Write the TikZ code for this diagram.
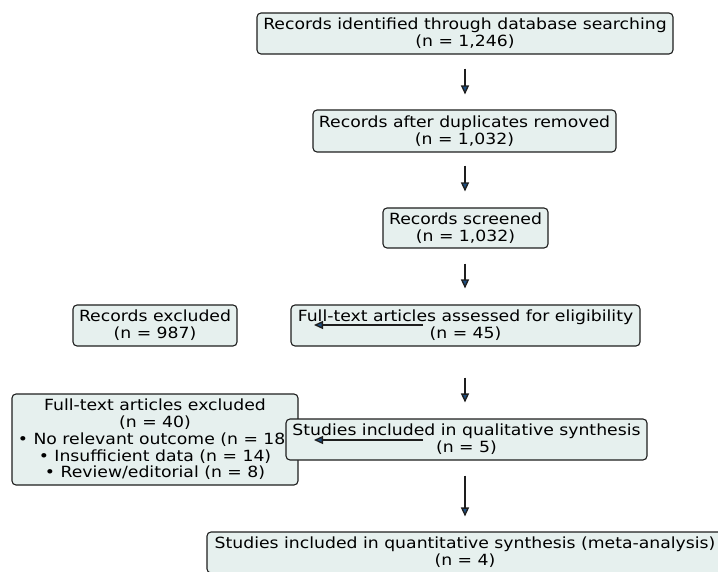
\documentclass[tikz,border=0pt]{standalone}
\usepackage{fontspec}
\setmainfont{DejaVu Sans}[FakeStretch=1.12]
\usetikzlibrary{arrows.meta,calc}
\definecolor{boxfill}{RGB}{230,240,238}
\definecolor{edgecol}{RGB}{30,30,30}
\definecolor{tipblue}{RGB}{31,80,130}
\tikzset{
  box/.style={draw=edgecol, fill=boxfill, line width=1.1pt, rounded corners=4pt,
    align=center, inner sep=0pt, font=\fontsize{15.4}{16.8}\selectfont},
  arr/.style={draw=edgecol, line width=1.3pt,
    -{Triangle[length=9pt,width=8pt,fill=tipblue]}},
}
\begin{document}
\begin{tikzpicture}[x=1pt,y=1pt]
\useasboundingbox (0,0) rectangle (718,-572);
\clip (0,0) rectangle (718,-572);
\node[box, minimum width=416pt, minimum height=41pt] (n1) at (465,-33.5)
  {Records identified through database searching\\(n = 1,246)};
\node[box, minimum width=303pt, minimum height=42pt] (n2) at (464.5,-131)
  {Records after duplicates removed\\(n = 1,032)};
\node[box, minimum width=165pt, minimum height=40pt] (n3) at (465.5,-228)
  {Records screened\\(n = 1,032)};
\node[box, minimum width=349pt, minimum height=41pt] (n4) at (465.5,-325.5)
  {Full-text articles assessed for eligibility\\(n = 45)};
\node[box, minimum width=164pt, minimum height=41pt] (ex1) at (155,-325.5)
  {Records excluded\\(n = 987)};
\node[box, minimum width=286pt, minimum height=91pt] (ex2) at (155,-439.5)
  {Full-text articles excluded\\(n = 40)\\• No relevant outcome (n = 18)\\• Insufficient data (n = 14)\\• Review/editorial (n = 8)};
\node[box, minimum width=361pt, minimum height=41pt] (n5) at (466.5,-439.5)
  {Studies included in qualitative synthesis\\(n = 5)};
\node[box, minimum width=516pt, minimum height=41pt] (n6) at (465,-552.5)
  {Studies included in quantitative synthesis (meta-analysis)\\(n = 4)};
\draw[arr, shorten <=14pt, shorten >=15pt] (n1.south) -- (n1.south |- n2.north);
\draw[arr, shorten <=13pt, shorten >=16pt] (n1.south |- n2.south) -- (n1.south |- n3.north);
\draw[arr, shorten <=15pt, shorten >=16pt] (n1.south |- n3.south) -- (n1.south |- n4.north);
\draw[arr, shorten <=31pt, shorten >=16pt] (n1.south |- n4.south) -- (n1.south |- n5.north);
\draw[arr, shorten <=15pt, shorten >=15pt] (n1.south |- n5.south) -- (n1.south |- n6.north);
\coordinate (l1s) at (423,-325);
\coordinate (l1e) at (314,-325);
\coordinate (l2s) at (423,-440);
\coordinate (l2e) at (314,-440);
\draw[arr] (l1s) -- (l1e);
\draw[arr] (l2s) -- (l2e);
\end{tikzpicture}
\end{document}
